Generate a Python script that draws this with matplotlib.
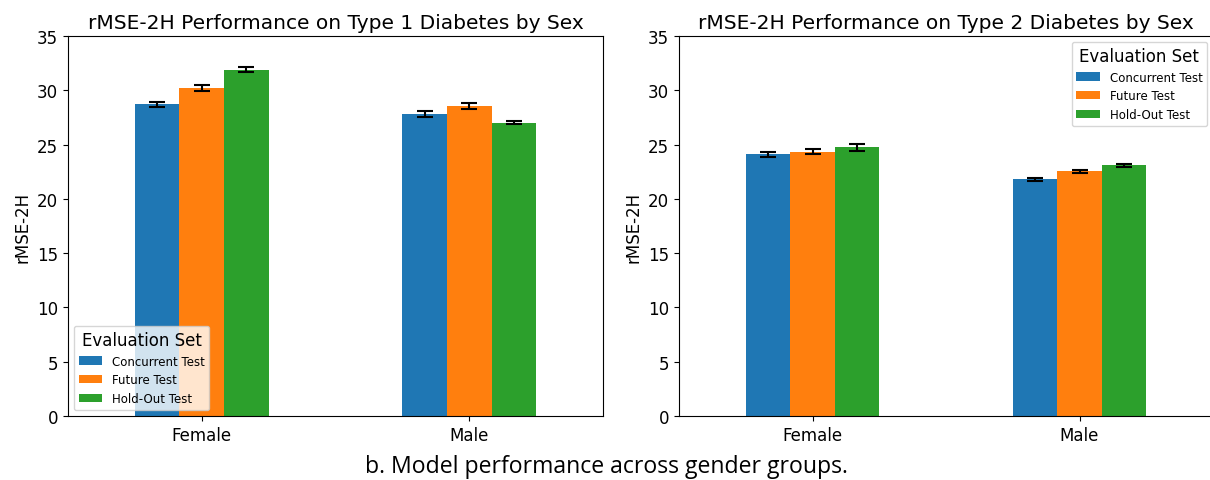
import matplotlib.pyplot as plt
import numpy as np

groups = ["Female", "Male"]
eval_sets = ["Concurrent Test", "Future Test", "Hold-Out Test"]
colors = ["#1f77b4", "#ff7f0e", "#2ca02c"]

# rows: eval set, cols: group
t1_mean = [[28.7, 27.8], [30.2, 28.55], [31.9, 27.0]]
t1_err = [[0.25, 0.25], [0.25, 0.25], [0.2, 0.15]]
t2_mean = [[24.1, 21.8], [24.35, 22.55], [24.75, 23.1]]
t2_err = [[0.25, 0.15], [0.25, 0.15], [0.3, 0.15]]

titles = [
    "rMSE-2H Performance on Type 1 Diabetes by Sex",
    "rMSE-2H Performance on Type 2 Diabetes by Sex",
]
caption = "b. Model performance across gender groups."


def _draw(ax, means, errs, title, legend_loc):
    x = np.arange(len(groups))
    w = 0.5 / 3
    for i, name in enumerate(eval_sets):
        ax.bar(
            x + (i - 1) * w, means[i], w, yerr=errs[i], color=colors[i], label=name,
            capsize=6, error_kw=dict(elinewidth=1.5, capthick=1.5, ecolor="black"),
        )
    ax.set_xticks(x)
    ax.set_xticklabels(groups, fontsize=12)
    ax.set_xlim(-0.5, 1.5)
    ax.set_ylim(0, 35)
    ax.tick_params(axis="y", labelsize=12)
    ax.set_ylabel("rMSE-2H", fontsize=12)
    ax.set_title(title, fontsize=14.5)
    ax.legend(title="Evaluation Set", loc=legend_loc, fontsize=8.5, title_fontsize=12)


fig = plt.figure(figsize=(12.1, 4.81), dpi=100)
ax1 = fig.add_axes([68 / 1210, 1 - 417 / 481, 535 / 1210, 380 / 481])
ax2 = fig.add_axes([679 / 1210, 1 - 417 / 481, 534 / 1210, 380 / 481])

_draw(ax1, t1_mean, t1_err, titles[0], "lower left")
_draw(ax2, t2_mean, t2_err, titles[1], "upper right")

fig.text(606 / 1210, 1 - 467 / 481, caption, ha="center", va="center",
         fontsize=16.6, family=["Open Sans", "DejaVu Sans"])

fig.savefig("out.png", dpi=100)
